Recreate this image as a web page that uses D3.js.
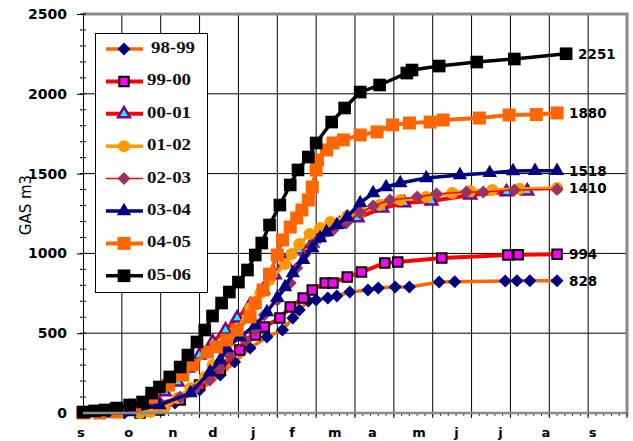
<!DOCTYPE html>
<html>
<head>
<meta charset="utf-8">
<script src="https://cdn.jsdelivr.net/npm/d3@7"></script>
<style>
  body { margin: 0; background: #fff; }
  svg { display: block; }
</style>
</head>
<body>
<div id="container"></div>
<script>
// cumulative gas use per season, [days since 1 Sept, m3]
var seasons = ["98-99", "99-00", "00-01", "01-02", "02-03", "03-04", "04-05", "05-06"];

var s9899 = [[32,0],[52,19],[71,63],[90,144],[106,238],[117,320],[129,407],[142,476],[154,520],[162,595],[167,645],[174,702],[180,708],[189,721],[196,733],[206,758],[220,771],[228,783],[241,789],[252,790],[275,821],[287,822],[326,827],[335,828],[345,828],[366,828]];
var s9900 = [[44,0],[59,19],[75,81],[90,175],[106,269],[121,395],[133,489],[140,539],[152,595],[160,664],[170,721],[177,771],[187,815],[193,815],[204,852],[215,883],[233,940],[243,946],[277,971],[328,990],[336,992],[366,994]];
var s0001 = [[21,0],[36,19],[52,81],[63,132],[73,194],[81,282],[90,363],[100,445],[110,520],[119,595],[129,677],[139,771],[148,865],[156,946],[167,1021],[177,1065],[185,1134],[198,1184],[212,1222],[231,1284],[248,1316],[269,1328],[299,1366],[327,1385],[343,1390]];
var s0102 = [[44,0],[52,6],[63,31],[73,94],[83,157],[94,226],[100,301],[110,382],[119,520],[129,658],[137,752],[144,833],[156,934],[161,996],[167,1059],[175,1122],[183,1159],[191,1197],[204,1234],[214,1259],[229,1303],[245,1335],[265,1353],[285,1378],[299,1391],[316,1397],[337,1404],[366,1410]];
var s0203 = [[5,0],[21,25],[42,50],[59,69],[75,100],[86,144],[98,207],[106,282],[113,363],[125,457],[133,520],[140,614],[150,708],[160,815],[165,909],[171,990],[177,1053],[183,1096],[193,1147],[204,1197],[214,1253],[224,1297],[237,1335],[258,1353],[273,1372],[296,1385],[309,1385],[333,1397],[366,1400]];
var s0304 = [[17,0],[36,6],[59,50],[83,125],[98,257],[106,332],[111,407],[121,476],[133,551],[142,633],[150,721],[156,789],[162,877],[170,959],[177,1034],[183,1096],[188,1134],[196,1178],[204,1228],[214,1316],[224,1378],[234,1416],[245,1441],[265,1472],[291,1491],[314,1504],[332,1516],[349,1518],[366,1518]];
var s0405 = [[0,0],[13,0],[26,6],[40,50],[53,100],[66,175],[77,238],[85,301],[96,382],[103,414],[111,457],[119,520],[129,602],[133,689],[139,771],[144,870],[150,990],[154,1084],[160,1165],[165,1222],[169,1272],[174,1335],[177,1416],[180,1523],[181,1585],[188,1648],[193,1692],[201,1711],[214,1742],[227,1761],[239,1805],[252,1817],[268,1823],[278,1836],[306,1848],[329,1867],[350,1870],[366,1880]];
var s0506 = [[0,6],[9,13],[17,19],[26,31],[36,50],[46,69],[53,125],[59,163],[67,226],[75,288],[81,363],[88,445],[94,520],[100,608],[107,689],[113,758],[120,820],[127,896],[133,990],[138,1065],[144,1178],[152,1303],[160,1429],[166,1523],[174,1604],[180,1692],[192,1823],[202,1911],[214,2011],[229,2055],[250,2130],[254,2149],[275,2174],[304,2199],[333,2218],[373,2251]];

var seriesData = [s9899, s9900, s0001, s0102, s0203, s0304, s0405, s0506];
var endLabels = [828, 994, null, 1410, null, 1518, 1880, 2251];

var monthNames = ["s", "o", "n", "d", "j", "f", "m", "a", "m", "j", "j", "a", "s"];
var monthPos = [-2, 35, 69, 100, 131, 161, 194, 223, 259, 288, 322, 357, 393];
var yTicks = [0, 500, 1000, 1500, 2000, 2500];

var styles = [
  { line: "#ff6600", lw: 3.5, shape: "diamond", fill: "#000080", stroke: "none", size: 85 },
  { line: "#ff0000", lw: 4, shape: "square", fill: "#ff00ff", stroke: "#000", sw: 2, size: 90 },
  { line: "#ff0000", lw: 4, shape: "triangle", fill: "#00ffff", stroke: "#800080", sw: 2.5, size: 60 },
  { line: "#ff9900", lw: 3.5, shape: "circle", fill: "#ff9900", stroke: "none", size: 115 },
  { line: "#ff0000", lw: 1.5, shape: "diamond", fill: "#993366", stroke: "none", size: 85 },
  { line: "#000080", lw: 3.5, shape: "triangle", fill: "#000080", stroke: "none", size: 90 },
  { line: "#ff6600", lw: 4, shape: "square", fill: "#ff6600", stroke: "none", size: 169 },
  { line: "#000000", lw: 3.5, shape: "square", fill: "#000000", stroke: "none", size: 160 }
];

var width = 633, height = 441;
var svg = d3.select("#container").append("svg")
  .attr("width", width)
  .attr("height", height);

var x = d3.scaleLinear().domain([0, 420]).range([83, 627]);
var y = d3.scaleLinear().domain([0, 2500]).range([413, 14]);

// grid
var grid = svg.append("g");
grid.selectAll("line.v")
  .data(d3.range(30, 420, 30))
  .enter().append("line")
  .attr("x1", (d) => x(d)).attr("x2", (d) => x(d))
  .attr("y1", y(2500)).attr("y2", y(0))
  .attr("stroke", "#000").attr("stroke-width", 1);
grid.selectAll("line.h")
  .data([500, 1000, 1500, 2000])
  .enter().append("line")
  .attr("x1", x(0)).attr("x2", x(420))
  .attr("y1", (d) => y(d)).attr("y2", (d) => y(d))
  .attr("stroke", "#000").attr("stroke-width", 1);

// frame: grey top / right / bottom, black left axis
svg.append("line")
  .attr("x1", x(0)).attr("x2", x(420) + 1.5)
  .attr("y1", y(2500)).attr("y2", y(2500))
  .attr("stroke", "#8a8a8a").attr("stroke-width", 3);
svg.append("line")
  .attr("x1", x(420)).attr("x2", x(420))
  .attr("y1", y(2500)).attr("y2", y(0) + 1)
  .attr("stroke", "#8a8a8a").attr("stroke-width", 3);

// bottom minor ticks
svg.append("g").selectAll("line")
  .data(d3.range(0, 421, 6))
  .enter().append("line")
  .attr("x1", (d) => x(d)).attr("x2", (d) => x(d))
  .attr("y1", y(0)).attr("y2", y(0) + 3)
  .attr("stroke", "#333").attr("stroke-width", 1);
svg.append("g").selectAll("line")
  .data(d3.range(0, 421, 30))
  .enter().append("line")
  .attr("x1", (d) => x(d)).attr("x2", (d) => x(d))
  .attr("y1", y(0)).attr("y2", y(0) + 5)
  .attr("stroke", "#000").attr("stroke-width", 1);

// y axis
var yAxisG = svg.append("g")
  .attr("transform", "translate(" + x(0) + ",0)")
  .call(d3.axisLeft(y).tickValues(yTicks).tickFormat(d3.format("d")).tickSize(6).tickPadding(10));
yAxisG.select(".domain").attr("stroke", "#000");
yAxisG.selectAll("text")
  .attr("font-family", "'DejaVu Sans', sans-serif")
  .attr("font-weight", "bold")
  .attr("font-size", 14)
  .attr("fill", "#000");

svg.append("g").selectAll("line")
  .data(d3.range(0, 2501, 100))
  .enter().append("line")
  .attr("x1", x(0) - 3).attr("x2", x(0) + 3)
  .attr("y1", (d) => y(d)).attr("y2", (d) => y(d))
  .attr("stroke", "#000").attr("stroke-width", 1);

// month labels
var xAxisG = svg.append("g")
  .attr("transform", "translate(0," + y(0) + ")")
  .call(d3.axisBottom(x).tickValues(monthPos)
    .tickFormat((d, i) => monthNames[i])
    .tickSize(0).tickPadding(15));
xAxisG.select(".domain").remove();
xAxisG.selectAll("text")
  .attr("font-family", "'DejaVu Sans', sans-serif")
  .attr("font-weight", "bold")
  .attr("font-size", 13)
  .attr("fill", "#000");

svg.append("text")
  .attr("transform", "translate(26," + 205 + ") rotate(-90)")
  .attr("text-anchor", "middle")
  .attr("dominant-baseline", "middle")
  .attr("font-family", "'DejaVu Sans', sans-serif")
  .attr("font-size", 15)
  .text("GAS m3");

function marker(g, st) {
  var t = { square: d3.symbolSquare, diamond: d3.symbolSquare, triangle: d3.symbolTriangle, circle: d3.symbolCircle }[st.shape];
  var p = g.append("path").attr("d", d3.symbol(t, st.size)())
    .attr("fill", st.fill)
    .attr("stroke", st.stroke)
    .attr("stroke-width", st.sw || 0);
  if (st.shape == "diamond") p.attr("transform", "rotate(45)");
  return p;
}

var line = d3.line().x((d) => x(d[0])).y((d) => y(d[1]));

seriesData.forEach(function (data, i) {
  var st = styles[i];
  var g = svg.append("g").attr("class", "series");
  g.append("path")
    .attr("d", line(data))
    .attr("fill", "none")
    .attr("stroke", st.line)
    .attr("stroke-width", st.lw)
    .attr("stroke-linejoin", "round");
  g.selectAll("g.pt")
    .data(data)
    .enter().append("g")
    .attr("transform", (d) => "translate(" + x(d[0]) + "," + y(d[1]) + ")")
    .each(function () { marker(d3.select(this), st); });

  if (endLabels[i] != null) {
    var last = data[data.length - 1];
    svg.append("text")
      .attr("x", x(last[0]) + 12)
      .attr("y", y(endLabels[i]) + 1)
      .attr("dominant-baseline", "middle")
      .attr("font-family", "'DejaVu Sans', sans-serif")
      .attr("font-weight", "bold")
      .attr("font-size", 13.5)
      .text(endLabels[i]);
  }
});

// bottom axis line over the marks
svg.append("line")
  .attr("x1", x(0)).attr("x2", x(420))
  .attr("y1", y(0)).attr("y2", y(0))
  .attr("stroke", "#8a8a8a").attr("stroke-width", 2.5);

// legend
var legend = svg.append("g").attr("id", "legend");
legend.append("rect")
  .attr("x", 95.5).attr("y", 33.5)
  .attr("width", 112).attr("height", 259)
  .attr("fill", "#fff").attr("stroke", "#000").attr("stroke-width", 1);

seasons.forEach(function (s, i) {
  var st = styles[i];
  var ly = 49 + i * 32.4;
  var row = legend.append("g");
  row.append("line")
    .attr("x1", 106).attr("x2", 143)
    .attr("y1", ly).attr("y2", ly)
    .attr("stroke", st.line)
    .attr("stroke-width", st.lw);
  var m = row.append("g").attr("transform", "translate(124," + ly + ")");
  marker(m, st);
  row.append("text")
    .attr("x", i == 0 ? 151 : 147)
    .attr("y", ly)
    .attr("dominant-baseline", "middle")
    .attr("font-family", "'Liberation Serif', 'Times New Roman', serif")
    .attr("font-weight", "bold")
    .attr("font-size", 17)
    .attr("textLength", 44)
    .attr("lengthAdjust", "spacingAndGlyphs")
    .attr("fill", "#111")
    .text(s);
});
</script>
</body>
</html>
